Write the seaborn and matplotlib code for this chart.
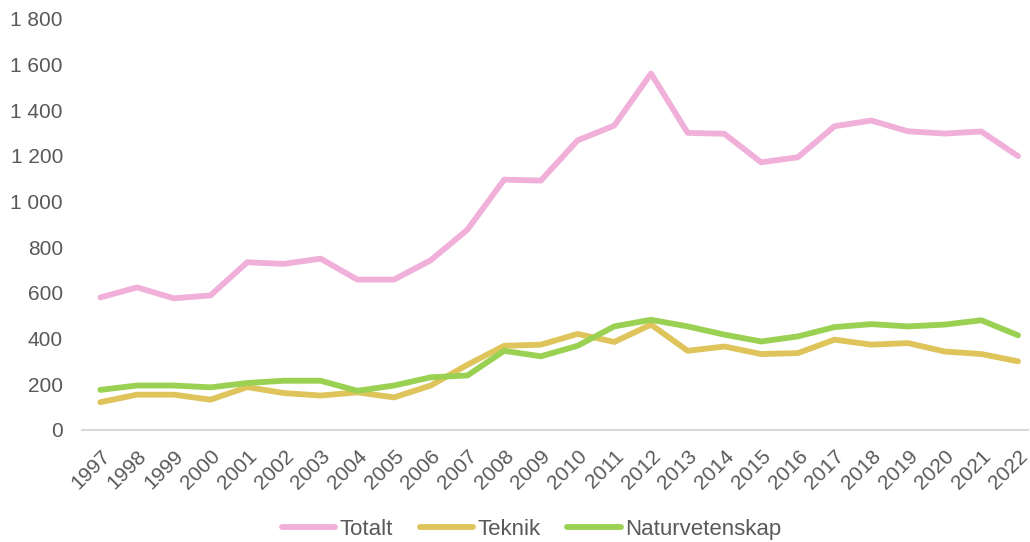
import seaborn as sns
import matplotlib.pyplot as plt
import pandas as pd

years = list(range(1997, 2023))
totalt = [580, 624, 576, 589, 734, 727, 750, 658, 658, 743, 877, 1096, 1092,
          1268, 1333, 1561, 1301, 1297, 1172, 1194, 1330, 1355, 1308, 1298, 1307, 1199]
teknik = [121, 154, 154, 132, 187, 161, 150, 164, 142, 194, 285, 368, 373,
          420, 385, 461, 346, 365, 332, 336, 395, 373, 380, 343, 332, 300]
naturvetenskap = [175, 194, 194, 186, 205, 215, 215, 171, 194, 230, 238, 346, 322,
                  368, 453, 482, 453, 417, 387, 409, 450, 463, 453, 461, 480, 414]

series = ["Totalt", "Teknik", "Naturvetenskap"]
colors = ["#F0B0DA", "#DEC45A", "#9AD152"]

df = pd.DataFrame({"År": years, "Totalt": totalt, "Teknik": teknik,
                   "Naturvetenskap": naturvetenskap})
long_df = df.melt(id_vars="År", var_name="Serie", value_name="Antal")

sns.set_theme(style="white")
plt.rcParams["font.family"] = ["Liberation Sans", "DejaVu Sans"]
text_color = "#595959"

fig = plt.figure(figsize=(10.3, 5.42), dpi=100)
ax = fig.add_axes([0.08, 0.207, 0.918, 0.758])

sns.lineplot(data=long_df, x="År", y="Antal", hue="Serie", hue_order=series,
             palette=colors, linewidth=4.2, ax=ax, solid_capstyle="round")

ax.set_xlim(1996.51, 2022.27)
ax.set_ylim(0, 1800)
ax.set_xticks(years)
ax.set_xticklabels([str(y) for y in years], rotation=45, ha="right",
                   rotation_mode="anchor", fontsize=15, color=text_color)
ax.set_yticks(range(0, 1801, 200))
ax.set_yticklabels([f"{v:,}".replace(",", " ") for v in range(0, 1801, 200)],
                   fontsize=15, color=text_color)
ax.tick_params(axis="x", length=0, pad=12)
ax.tick_params(axis="y", length=0, pad=14)
ax.set_xlabel("")
ax.set_ylabel("")

for side in ["top", "right", "left"]:
    ax.spines[side].set_visible(False)
ax.spines["bottom"].set_color("#D9D9D9")
ax.spines["bottom"].set_linewidth(1.5)

ax.legend(loc="center", bbox_to_anchor=(0.475, -0.243), ncol=3, frameon=False,
          fontsize=16, labelcolor=text_color, handlelength=2.4, handletextpad=0.2,
          columnspacing=1.2)

fig.savefig("out.png", dpi=100)
